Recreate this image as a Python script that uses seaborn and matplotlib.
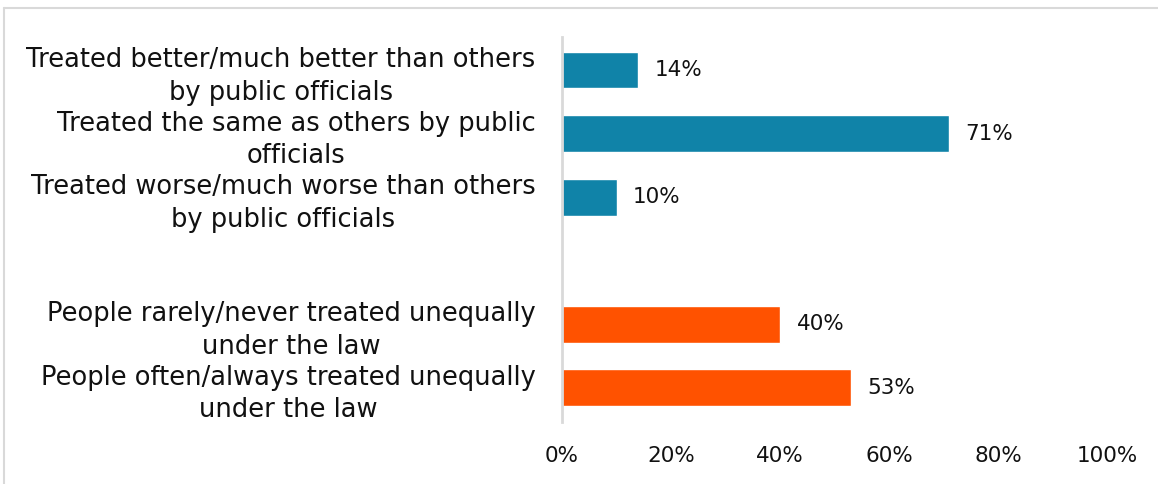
import numpy as np
import pandas as pd
import seaborn as sns
import matplotlib.pyplot as plt
from matplotlib.lines import Line2D
from matplotlib.ticker import FuncFormatter

# Chart data
categories = [
    "Treated better/much better than others\nby public officials",
    "Treated the same as others by public\nofficials",
    "Treated worse/much worse than others\nby public officials",
    "",
    "People rarely/never treated unequally\nunder the law",
    "People often/always treated unequally\nunder the law",
]
values = [14, 71, 10, np.nan, 40, 53]
bar_colors = ["#1083A8", "#1083A8", "#1083A8", "#1083A8", "#FF5200", "#FF5200"]
x_ticks = [0, 20, 40, 60, 80, 100]

sns.set_style("white")
plt.rcParams['font.family'] = ['DejaVu Sans']

df = pd.DataFrame({'Category': categories, 'Value': values})

fig = plt.figure(figsize=(11.58, 4.84), dpi=100)
ax = fig.add_axes([562 / 1158, 1 - 422 / 484, (1107 - 562) / 1158, (422 - 37) / 484])

# light frame lines (top and left) around the picture
frame_x, frame_y = 4 / 1158, 1 - 8 / 484
fig.add_artist(Line2D([frame_x, 1.0], [frame_y, frame_y], transform=fig.transFigure,
                      color="#d9d9d9", linewidth=1.5))
fig.add_artist(Line2D([frame_x, frame_x], [0.0, frame_y], transform=fig.transFigure,
                      color="#d9d9d9", linewidth=1.5))

sns.barplot(data=df, y='Category', x='Value', hue='Category', palette=bar_colors,
            dodge=False, legend=False, width=0.58, saturation=1, ax=ax)

# value labels next to the bars
for i, v in enumerate(values):
    if np.isnan(v):
        continue
    ax.annotate(f"{v:.0f}%", xy=(v, i), xytext=(12, 0), textcoords='offset points',
                va='center', ha='left', fontsize=15.5, color='#111111')

ax.set_xlim(0, 100)
ax.set_ylim(5.54, -0.52)
ax.set_xticks(x_ticks)
ax.xaxis.set_major_formatter(FuncFormatter(lambda x, _: f"{x:.0f}%"))
ax.set_xlabel("")
ax.set_ylabel("")
ax.tick_params(axis='x', length=0, pad=17, labelsize=15.5, labelcolor='#111111')
ax.tick_params(axis='y', length=0, pad=19, labelsize=18.5, labelcolor='#111111')
for lbl in ax.get_yticklabels():
    lbl.set_multialignment('center')
    lbl.set_linespacing(1.33)

for side in ['top', 'right', 'bottom']:
    ax.spines[side].set_visible(False)
ax.spines['left'].set_color('#d9d9d9')
ax.spines['left'].set_linewidth(2)

plt.savefig('out.png', dpi=100)
plt.close()
